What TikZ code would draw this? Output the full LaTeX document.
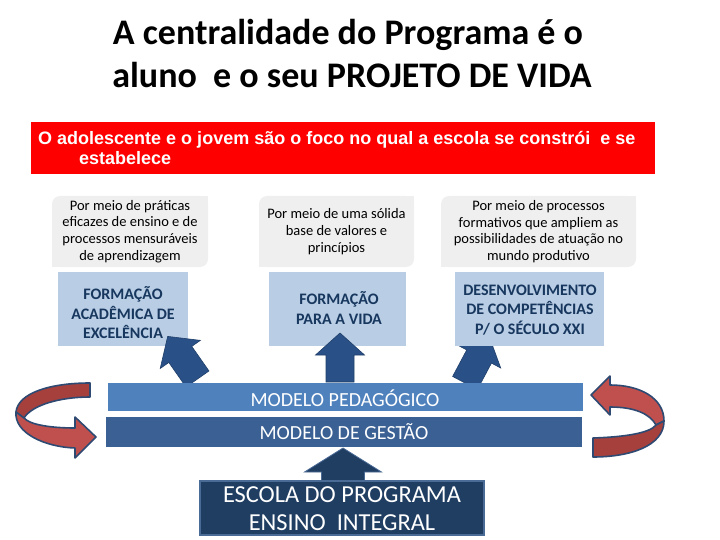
\documentclass[tikz,border=0pt]{standalone}
\usepackage{fontspec}
\setmainfont{Carlito}
\newfontfamily\arialf{Liberation Sans}
\definecolor{redc}{HTML}{FF0000}
\definecolor{lblue}{HTML}{B9CDE5}
\definecolor{greyc}{HTML}{EFEFEF}
\definecolor{bar1c}{HTML}{4F81BD}
\definecolor{bar2c}{HTML}{3B6194}
\definecolor{navyc}{HTML}{203D62}
\definecolor{navyedge}{HTML}{4B6B97}
\definecolor{arrowblue}{HTML}{2A5187}
\definecolor{arrowedge}{HTML}{1F3F6A}
\definecolor{txtnavy}{HTML}{17375E}
\definecolor{rlight}{HTML}{C0504D}
\definecolor{rdark}{HTML}{A5403D}
\definecolor{rline}{HTML}{2E4A73}
\tikzset{
  pics/barrow/.style n args={4}{code={%
    \path[pic actions] (-#4/2,0) -- (-#4/2,-#1+#2) -- (-#3/2,-#1+#2) -- (0,-#1)
      -- (#3/2,-#1+#2) -- (#4/2,-#1+#2) -- (#4/2,0) -- cycle;}},
  greybox/.style={fill=greyc, rounded corners=8, minimum height=71, minimum width=#1, inner sep=0},
  greytxt/.style={align=center, font=\fontsize{14.5}{16.7}\selectfont, text=black, inner sep=0},
  bluebox/.style={fill=lblue, minimum width=#1, minimum height=74, inner sep=0},
  bluetxt/.style={align=center, font=\fontsize{16}{19.5}\selectfont\bfseries, text=txtnavy, inner sep=0},
  bartxt/.style={text=white, font=\fontsize{20}{22}\selectfont, inner sep=0},
  titletxt/.style={font=\fontsize{36}{43}\selectfont\bfseries, inner sep=0, anchor=base},
  redtxt/.style={text=white, font=\arialf\bfseries\fontsize{18}{20}\selectfont, inner sep=0, anchor=base west},
  arrowfill/.style={fill=arrowblue, draw=arrowedge, line width=0.6},
  redarrow/.style={draw=rline, line width=1.6, line join=round},
}
\begin{document}
\begin{tikzpicture}[x=1pt,y=-1pt]
\useasboundingbox (0,0) rectangle (720,540);

% title
\node[titletxt] (t1) at (348,45) {A centralidade do Programa é o};
\node[titletxt] (t2) at (352,88) {aluno\ \ e o seu PROJETO DE VIDA};

% red banner
\node[fill=redc, minimum width=624, minimum height=52, inner sep=0] (red) at (343,148) {};
\node[redtxt] (r1) at (38,144.5) {O adolescente e o jovem são o foco no qual a escola se constrói\ \ e se};
\node[redtxt] (r2) at (79,164.5) {estabelece};

% grey boxes
\node[greybox=156] (g1) at (130,231.5) {};
\node[greybox=155] (g2) at (336.5,231.5) {};
\node[greybox=195] (g3) at (538.5,231.5) {};
\foreach \g in {g1,g2,g3}{
  \fill[greyc] (\g.north east) rectangle +(-12,12);
  \fill[greyc] (\g.south west) rectangle +(12,-12);
}
\node[greytxt] (g1t) at (g1.center) {Por meio de práticas\\eficazes de ensino e de\\processos mensuráveis\\de aprendizagem};
\node[greytxt] (g2t) at (g2.center) {Por meio de uma sólida\\base de valores e\\princípios};
\node[greytxt] (g3t) at (g3.center) {Por meio de processos\\formativos que ampliem as\\possibilidades de atuação no\\mundo produtivo};

% right up arrow (behind box)
\coordinate (a3) at (465,383);
\pic[arrowfill, rotate=-28] at (a3) {barrow={52}{22}{49}{28}};

% blue boxes
\node[bluebox=130] (b1) at (123,309) {};
\node[bluebox=137] (b2) at (337.5,309) {};
\node[bluebox=149] (b3) at (529.5,309) {};
\node[bluetxt] (b1t) at (123,313) {FORMAÇÃO\\ACADÊMICA DE\\EXCELÊNCIA};
\node[bluetxt] (b2t) at (339,308) {FORMAÇÃO\\PARA A VIDA};
\node[bluetxt] (b3t) at (530,310) {DESENVOLVIMENTO\\DE COMPETÊNCIAS\\P/ O SÉCULO XXI};

% left and middle arrows
\coordinate (a1) at (197.5,379);
\pic[arrowfill, rotate=35] at (a1) {barrow={52}{22}{49}{28}};
\coordinate (a2) at (340,382);
\pic[arrowfill] at (a2) {barrow={49}{22}{49}{28}};

% bars
\node[fill=bar1c, minimum width=475, minimum height=28, inner sep=0] (bar1) at (345.5,397) {};
\node[bartxt] (bar1t) at (345,398) {MODELO PEDAGÓGICO};
\node[fill=bar2c, minimum width=476, minimum height=30, inner sep=0] (bar2) at (344,432) {};
\node[bartxt] (bar2t) at (344,432) {MODELO DE GESTÃO};

% escola
\coordinate (a4) at (343,482);
\pic[fill=navyc, draw=navyedge, line width=0.8] at (a4) {barrow={34}{24}{77}{43}};
\node[fill=navyc, draw=navyedge, line width=1.5, minimum width=284, minimum height=54, inner sep=0] (esc) at (342,508) {};
\node[align=center, text=white, font=\fontsize{24.4}{28}\selectfont, inner sep=0] (esct) at (342,509) {ESCOLA DO PROGRAMA\\ENSINO\ \ INTEGRAL};

% left curved arrow
\filldraw[redarrow, fill=rdark] (90,383) .. controls (50,383) and (18,393) .. (16,412) -- (24,418) .. controls (32,405) and (60,397) .. (90,397) -- cycle;
\filldraw[redarrow, fill=rlight] (16,412) .. controls (14,433) and (45,447) .. (75,448) -- (75,458) -- (96,437) -- (75,417) -- (75,428) .. controls (52,428) and (30,425) .. (24,418) -- cycle;

% right curved arrow
\filldraw[redarrow, fill=rlight] (610,385) .. controls (640,385) and (664,398) .. (664,421) -- (656,425) .. controls (650,414) and (635,407) .. (610,407) -- (610,415) -- (591,395) -- (610,376) -- cycle;
\filldraw[redarrow, fill=rdark] (664,421) .. controls (664,446) and (630,457) .. (593,457) -- (593,438) .. controls (625,437) and (650,433) .. (656,425) -- cycle;
\end{tikzpicture}
\end{document}
